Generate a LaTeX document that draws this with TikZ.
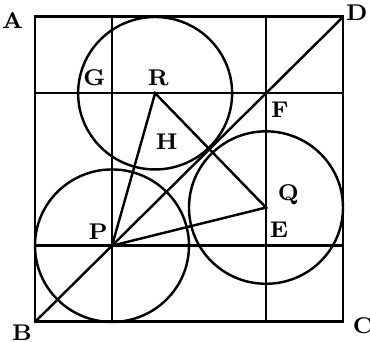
\documentclass[tikz,border=0pt]{standalone}
\usepackage{tikz}
\usetikzlibrary{calc}

\begin{document}
\begin{tikzpicture}[
        x=1cm, y=0.99cm,
        every node/.style={font=\fontsize{8.4}{10}\selectfont\bfseries, inner sep=1pt},
        frame/.style={line width=1.1pt},
        edge/.style={line width=0.9pt},
        ring/.style={line width=0.9pt},
    ]
        \useasboundingbox (-0.4545,-0.262) rectangle (4.3506,4.223);

        % --- Square corners ---
        \coordinate (B) at (0,0);
        \coordinate (C) at (4,0);
        \coordinate (D) at (4,4);
        \coordinate (A) at (0,4);

        % --- Centres and grid points ---
        \coordinate (P) at (1,1);
        \coordinate (Q) at (3,1.5);
        \coordinate (R) at (1.56,3);
        \coordinate (E) at (3,1);
        \coordinate (F) at (3,3);

        % --- Square ---
        \draw[frame] (A) -- (B) -- (C) -- (D) -- cycle;

        % --- Grid lines ---
        \draw[edge] (B -| P) -- (A -| P);
        \draw[edge] (B -| E) -- (A -| E);
        \draw[edge] (B |- P) -- (C |- P);
        \draw[edge] (B |- F) -- (C |- F);

        % --- Diagonal ---
        \draw[edge] (B) -- (D);

        % --- Circles ---
        \draw[ring] (P) circle[radius=1];
        \draw[ring] (Q) circle[radius=1];
        \draw[ring] (R) circle[radius=1];

        % --- Triangle PRQ ---
        \draw[edge] (P) -- (R) -- (Q) -- (P);

        % --- Labels ---
        \node (labA) at (-0.29,3.96) {A};
        \node (labB) at (-0.17,-0.14) {B};
        \node (labC) at (4.26,-0.05) {C};
        \node (labD) at (4.18,4.05) {D};
        \node (labG) at (0.77,3.21) {G};
        \node (labR) at (1.6,3.2) {R};
        \node (labH) at (1.71,2.36) {H};
        \node (labF) at (3.18,2.78) {F};
        \node (labQ) at (3.29,1.67) {Q};
        \node (labE) at (3.17,1.21) {E};
        \node (labP) at (0.82,1.18) {P};

    \end{tikzpicture}
\end{document}
